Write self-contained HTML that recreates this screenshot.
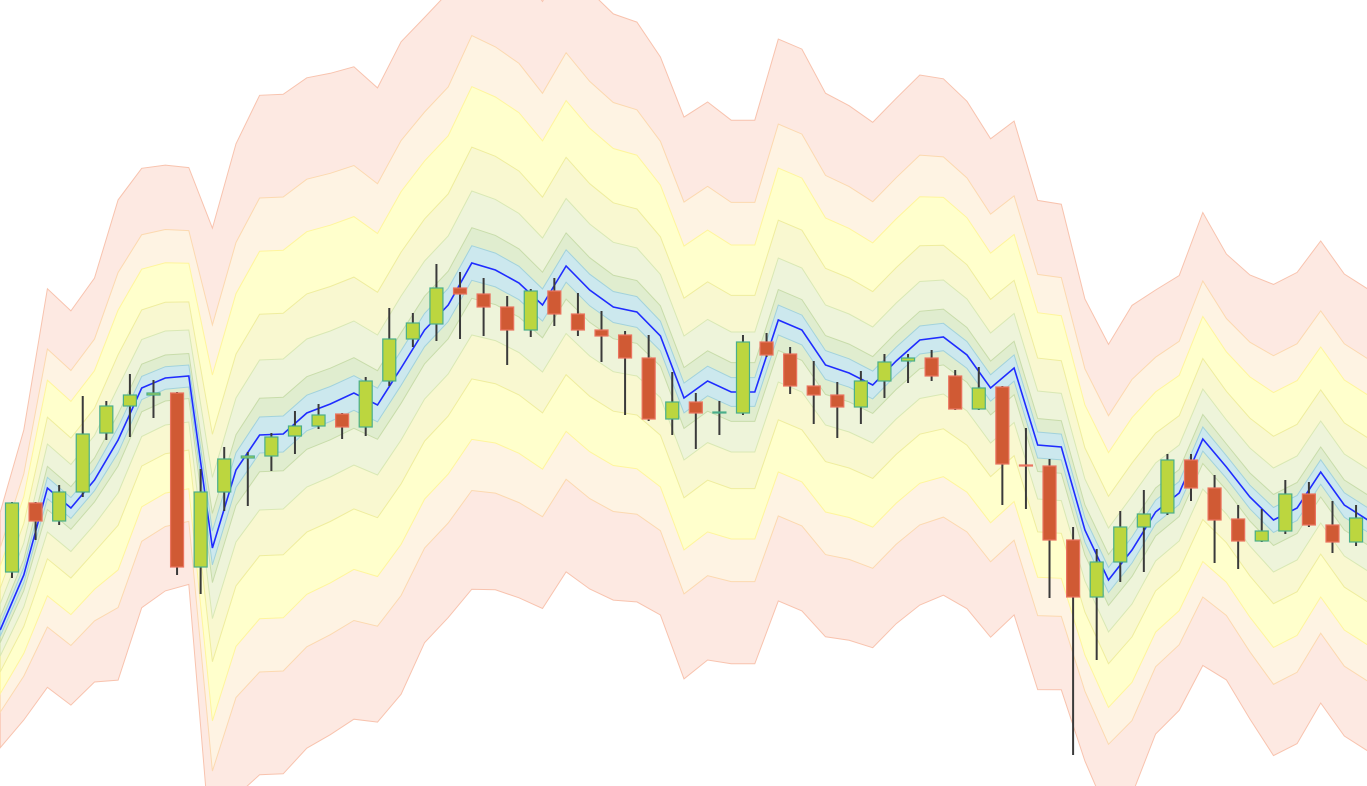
<!DOCTYPE html>
<html><head><meta charset="utf-8"><style>
html,body{margin:0;padding:0;background:#fff;overflow:hidden;width:1367px;height:786px}
svg{display:block;position:absolute;left:0;top:0}
</style></head><body>
<svg id="chart" width="1367" height="786" viewBox="0 0 1367 786" xmlns="http://www.w3.org/2000/svg">
<g id="bands"></g>
<g id="centerline"></g>
<g id="candles"></g>
</svg>
<script>
const opens  = [92.8,99.7,97.9,100.8,106.7,109.4,110.5,110.7,93.3,100.8,104.2,104.4,106.4,107.4,108.6,107.3,111.9,116.1,117.6,121.2,120.6,119.3,117.0,120.9,118.6,117.0,116.5,114.2,108.1,109.8,108.75,108.7,115.8,114.6,111.4,110.5,109.3,111.9,113.9,114.2,112.4,109.1,111.3,103.5,103.4,96.0,90.3,93.8,97.3,98.7,104.0,101.2,98.1,95.9,96.9,100.6,97.5,95.8];
const closes = [99.7,97.9,100.8,106.6,109.4,110.5,110.7,93.3,100.8,104.1,104.4,106.3,107.4,108.5,107.3,111.9,116.1,117.7,121.2,120.6,119.3,117.0,120.9,118.6,117.0,116.4,114.2,108.1,109.8,108.7,108.8,115.8,114.5,111.4,110.5,109.3,111.9,113.8,114.2,112.4,109.1,111.2,103.6,103.4,96.0,90.3,93.8,97.3,98.6,104.0,101.2,98.0,95.9,96.9,100.6,97.5,95.8,98.2];
const highs  = [99.8,99.8,101.5,110.4,109.9,112.6,112.0,110.8,103.1,105.3,104.8,106.7,108.9,109.6,108.7,112.3,119.2,118.7,123.6,122.8,122.2,120.4,121.1,122.2,120.7,118.9,116.9,116.5,112.8,110.7,109.9,116.5,116.7,115.3,113.9,111.8,112.9,114.6,114.6,115.0,113.0,113.3,111.4,107.2,104.1,97.3,95.1,98.9,101.0,104.6,104.6,102.5,99.5,99.1,102.0,101.8,99.9,99.5];
const lows   = [92.2,96.0,97.5,100.3,106.0,106.3,108.2,92.5,90.6,98.9,99.4,102.9,104.6,107.1,106.1,106.4,111.4,115.3,115.9,116.1,116.4,113.5,116.3,117.4,116.4,113.8,108.5,107.9,106.5,105.1,106.5,108.5,114.3,110.6,107.6,106.2,107.6,110.2,111.7,111.9,109.0,109.0,99.5,99.1,90.2,74.5,84.0,91.8,92.8,98.5,99.9,93.7,93.1,95.8,96.6,97.3,94.7,95.4];
const centers = [87.0,92.5,101.2,99.2,102.0,106.0,111.2,112.2,112.4,95.2,103.0,106.5,106.6,108.7,109.6,110.7,109.5,113.2,117.0,119.5,123.7,123.0,121.7,119.5,123.4,121.0,119.3,118.8,116.4,110.2,111.9,110.8,110.8,118.0,117.0,113.5,112.7,111.5,113.9,116.0,116.3,114.5,111.2,113.2,105.5,105.3,97.0,92.0,95.0,98.8,100.7,106.1,103.3,100.3,98.0,99.2,102.8,99.5,98.0];
const deviations = [2.6,3.2,4.4,4.35,4.46,5.3,4.85,4.7,4.6,7.06,7.2,7.5,7.5,7.4,7.3,7.2,7.0,7.2,6.9,6.9,7.2,7.06,6.95,6.7,6.75,6.6,6.47,6.4,6.16,6.2,6.16,6.0,6.0,6.2,6.2,6.0,5.9,5.8,5.8,5.85,5.7,5.6,5.5,5.45,5.4,5.36,5.1,5.2,5.4,4.9,4.8,5.0,4.7,4.9,5.2,5.2,5.1,5.1,5.1];
const bandMultipliers = [4.53,3.16,2.45,1.61,1.0,0.49,0.24];

const bandFills   = ['#fde9e2','#fef3e3','#ffffcc','#f9f8d0','#eef4da','#e0edcf','#cce8ee'];
const bandStrokes = ['#f8c3ae','#fcd9b0','#fff59c','#efed9e','#d9e8b4','#c8dcaa','#a2d2dc'];
const bandNames = ['band-4-5','band-3-2','band-2-4','band-1-6','band-1-0','band-0-5','band-0-2'];
const STEP = 23.58, X0 = 12;
const xCandle = i => X0 + i*STEP;
const xPoint = j => X0 + (j-0.5)*STEP;
const yScale = p => (150 - p)*10;
const NS = 'http://www.w3.org/2000/svg';

const bandsG = document.getElementById('bands');
bandMultipliers.forEach((m,k)=>{
  const top = centers.map((c,j)=>xPoint(j).toFixed(1)+','+yScale(c + m*deviations[j]).toFixed(1));
  const bot = centers.map((c,j)=>xPoint(j).toFixed(1)+','+yScale(c - m*deviations[j]).toFixed(1)).reverse();
  const poly = document.createElementNS(NS,'polygon');
  poly.setAttribute('points', top.concat(bot).join(' '));
  poly.setAttribute('fill', bandFills[k]);
  poly.setAttribute('stroke', bandStrokes[k]);
  poly.setAttribute('stroke-width', '1');
  
  
  bandsG.appendChild(poly);
});

const line = document.createElementNS(NS,'polyline');
line.setAttribute('points', centers.map((c,j)=>xPoint(j).toFixed(1)+','+yScale(c).toFixed(1)).join(' '));
line.setAttribute('fill','none');
line.setAttribute('stroke','#1f2cff');
line.setAttribute('stroke-width','1.6');


document.getElementById('centerline').appendChild(line);

const cg = document.getElementById('candles');
opens.forEach((o,i)=>{
  const c = closes[i], x = xCandle(i);
  const up = c >= o;
  const g = document.createElementNS(NS,'g');
  
  
  const w = document.createElementNS(NS,'line');
  w.setAttribute('x1',x); w.setAttribute('x2',x);
  w.setAttribute('y1',yScale(highs[i])); w.setAttribute('y2',yScale(lows[i]));
  w.setAttribute('stroke','#3a3a3a'); w.setAttribute('stroke-width','2');
  
  
  g.appendChild(w);
  const yt = yScale(Math.max(o,c)), yb = yScale(Math.min(o,c));
  const r = document.createElementNS(NS,'rect');
  r.setAttribute('x', x-6.5); r.setAttribute('width', 13);
  r.setAttribute('y', yt); r.setAttribute('height', Math.max(1, yb-yt));
  r.setAttribute('fill', up ? '#bcd63f' : '#d05a34');
  r.setAttribute('stroke', up ? '#4aae8a' : '#ea7460');
  r.setAttribute('stroke-width','1.2');
  
  
  g.appendChild(r);
  cg.appendChild(g);
});
</script>
</body></html>
